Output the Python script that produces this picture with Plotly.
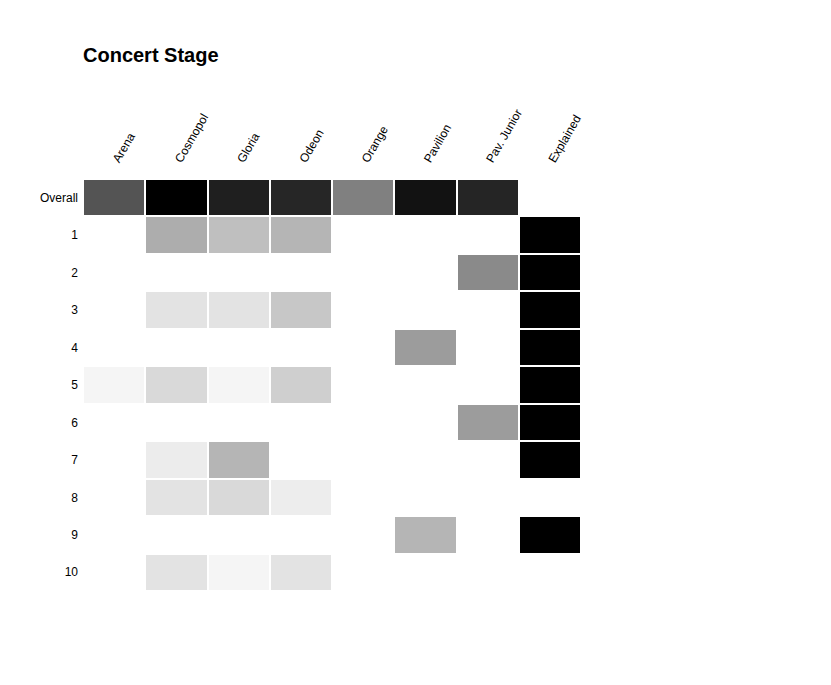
import plotly.graph_objects as go

columns = ["Arena", "Cosmopol", "Gloria", "Odeon", "Orange", "Pavilion", "Pav. Junior", "Explained"]
rows = ["Overall", "1", "2", "3", "4", "5", "6", "7", "8", "9", "10"]

# shade intensity (0 = white, 1 = black); None = empty
overall = [0.67, 1.00, 0.88, 0.85, 0.50, 0.93, 0.855, None]
r1 = [None, 0.32, 0.25, 0.29, None, None, None, 1.0]
r2 = [None, None, None, None, None, None, 0.46, 1.0]
r3 = [None, 0.11, 0.11, 0.22, None, None, None, 1.0]
r4 = [None, None, None, None, None, 0.39, None, 1.0]
r5 = [0.04, 0.15, 0.04, 0.19, None, None, None, 1.0]
r6 = [None, None, None, None, None, None, 0.39, 1.0]
r7 = [None, 0.075, 0.29, None, None, None, None, 1.0]
r8 = [None, 0.11, 0.15, 0.07, None, None, None, None]
r9 = [None, None, None, None, None, 0.29, None, 1.0]
r10 = [None, 0.11, 0.04, 0.11, None, None, None, None]

z = [overall, r1, r2, r3, r4, r5, r6, r7, r8, r9, r10]

fig = go.Figure(go.Heatmap(
    z=z, x=columns, y=rows,
    colorscale=[[0, "white"], [1, "black"]],
    zmin=0, zmax=1, showscale=False,
    xgap=2, ygap=2, hoverongaps=False,
))

fig.update_layout(
    width=831, height=685,
    margin=dict(l=75, r=258, t=171, b=102),
    paper_bgcolor="white", plot_bgcolor="white",
    font=dict(family="Liberation Sans, Arial, sans-serif", size=12, color="black"),
    title=dict(text="<b>Concert Stage</b>", x=75/831, xref="container", xanchor="left",
               y=1-47/685, yref="container", yanchor="middle",
               font=dict(size=20, color="black")),
    xaxis=dict(side="top", tickangle=-60, showgrid=False, zeroline=False,
               showline=False, ticks="", tickfont=dict(size=12),
               ticklabelstandoff=9, automargin=False),
    yaxis=dict(autorange="reversed", showgrid=False, zeroline=False,
               showline=False, ticks="", tickfont=dict(size=12),
               ticklabelstandoff=4, automargin=False),
)

fig.write_html("out.html")
